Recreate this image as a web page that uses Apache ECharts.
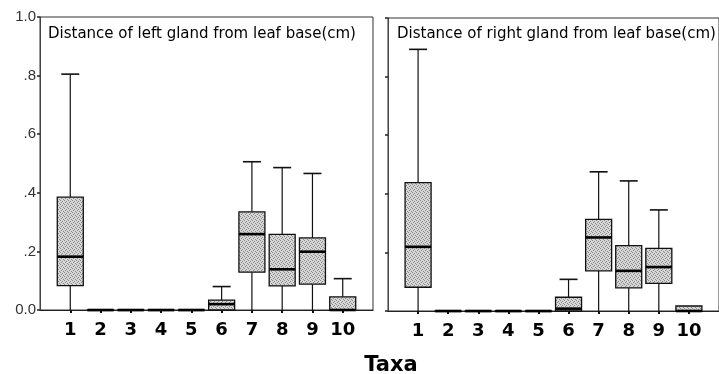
<!DOCTYPE html>
<html>
<head>
<meta charset="utf-8">
<script src="https://cdn.jsdelivr.net/npm/echarts@6/dist/echarts.min.js"></script>
<style>html,body{margin:0;padding:0;background:#fff}#c{width:719px;height:374px}</style>
</head>
<body>
<div id="c"></div>
<script>
// ---- data ----
const categories = ['1','2','3','4','5','6','7','8','9','10'];
const yTickLabels = ['0.0','.2','.4','.6','.8','1.0'];
const panelTitles = ['Distance of left gland from leaf base(cm)', 'Distance of right gland from leaf base(cm)'];
const xAxisTitle = 'Taxa';
// left gland
const leftMin    = [0,    0, 0, 0, 0, 0,     0,     0,     0,     0];
const leftQ1     = [0.083,0, 0, 0, 0, 0,     0.129, 0.082, 0.088, 0];
const leftMedian = [0.182,0, 0, 0, 0, 0.02,  0.259, 0.139, 0.199, 0];
const leftQ3     = [0.385,0, 0, 0, 0, 0.034, 0.335, 0.258, 0.246, 0.045];
const leftMax    = [0.805,0, 0, 0, 0, 0.08,  0.506, 0.486, 0.466, 0.107];
// right gland
const rightMin    = [0,    0, 0, 0, 0, 0,     0,     0,     0,     0];
const rightQ1     = [0.081,0, 0, 0, 0, 0,     0.137, 0.079, 0.094, 0];
const rightMedian = [0.219,0, 0, 0, 0, 0.008, 0.251, 0.137, 0.150, 0];
const rightQ3     = [0.438,0, 0, 0, 0, 0.047, 0.313, 0.223, 0.214, 0.017];
const rightMax    = [0.893,0, 0, 0, 0, 0.108, 0.475, 0.444, 0.345, 0.017];

function buildData(mn, q1, md, q3, mx) {
  return categories.map((c, i) => [i + 1, mn[i], q1[i], md[i], q3[i], mx[i]]);
}

// stipple texture for the boxes (fixed pattern)
const pc = document.createElement('canvas');
pc.width = 4; pc.height = 4;
const pctx = pc.getContext('2d');
pctx.fillStyle = '#d6d6d6'; pctx.fillRect(0, 0, 4, 4);
pctx.fillStyle = '#8a8a8a';
[[0,0],[2,1],[1,2],[3,3]].forEach(p => pctx.fillRect(p[0], p[1], 1, 1));
const stipple = {image: pc, repeat: 'repeat'};

const chart = echarts.init(document.getElementById('c'), null, {renderer: 'canvas'});

function renderBox(params, api) {
  const x = api.value(0);
  const pMin = api.coord([x, api.value(1)]);
  const pQ1 = api.coord([x, api.value(2)]);
  const pMed = api.coord([x, api.value(3)]);
  const pQ3 = api.coord([x, api.value(4)]);
  const pMax = api.coord([x, api.value(5)]);
  const cx = pMin[0];
  const bw = 26, cw = 18;
  const children = [];
  const lineStyle = {stroke: '#111', lineWidth: 1.2};
  if (pMax[1] < pQ3[1] - 0.5) {
    children.push({type: 'line', shape: {x1: cx, y1: pQ3[1], x2: cx, y2: pMax[1]}, style: lineStyle});
    children.push({type: 'line', shape: {x1: cx - cw / 2, y1: pMax[1], x2: cx + cw / 2, y2: pMax[1]}, style: {stroke: '#111', lineWidth: 1.6}});
  }
  if (pMin[1] > pQ1[1] + 0.5) {
    children.push({type: 'line', shape: {x1: cx, y1: pQ1[1], x2: cx, y2: pMin[1]}, style: lineStyle});
  }
  children.push({type: 'rect', shape: {x: cx - bw / 2, y: pQ3[1], width: bw, height: Math.max(pQ1[1] - pQ3[1], 0.5)},
    style: {fill: stipple, stroke: '#111', lineWidth: 1.3}});
  children.push({type: 'line', shape: {x1: cx - bw / 2, y1: pMed[1], x2: cx + bw / 2, y2: pMed[1]}, style: {stroke: '#000', lineWidth: 2.6}});
  return {type: 'group', children: children};
}

const font = 'DejaVu Sans';
function xAxisCfg(gi) {
  return {
    type: 'value', gridIndex: gi, min: 0, max: 11, interval: 1,
    axisLine: {show: true, onZero: false, lineStyle: {color: '#222', width: 1.2}},
    axisTick: {show: true, length: 3, inside: false, lineStyle: {color: '#111', width: 2}},
    splitLine: {show: false},
    axisLabel: {
      margin: 11, color: '#000', fontFamily: font, fontWeight: 'bold', fontSize: 18,
      formatter: v => (v >= 1 && v <= categories.length) ? categories[v - 1] : '',
      showMinLabel: false, showMaxLabel: false
    }
  };
}
function yAxisCfg(gi, showLabels) {
  return {
    type: 'value', gridIndex: gi, min: 0, max: 1, interval: 0.2,
    axisLine: {show: true, lineStyle: {color: '#444', width: 1}},
    axisTick: {show: true, length: 3, lineStyle: {color: '#222', width: 1.5}},
    splitLine: {show: false},
    axisLabel: {
      show: showLabels, margin: 4, color: '#333', fontFamily: 'Liberation Sans', fontSize: 15,
      formatter: v => yTickLabels[Math.round(v / 0.2)]
    }
  };
}

chart.setOption({
  animation: false,
  backgroundColor: '#fff',
  grid: [
    {left: 40, right: 346, top: 17, bottom: 64, show: true, borderColor: '#333', borderWidth: 1, backgroundColor: 'transparent'},
    {left: 388, right: -4, top: 18, bottom: 63, show: true, borderColor: '#333', borderWidth: 1, backgroundColor: 'transparent'}
  ],
  title: [
    {text: panelTitles[0], left: 43, top: 22, textStyle: {fontFamily: font, fontSize: 15, fontWeight: 'normal', color: '#000'}},
    {text: panelTitles[1], left: 392, top: 22, textStyle: {fontFamily: font, fontSize: 15, fontWeight: 'normal', color: '#000'}},
    {text: xAxisTitle, left: 386, top: 350, textAlign: 'center', textStyle: {fontFamily: font, fontSize: 21, fontWeight: 'bold', color: '#000'}}
  ],
  xAxis: [xAxisCfg(0), xAxisCfg(1)],
  yAxis: [yAxisCfg(0, true), yAxisCfg(1, false)],
  series: [
    {type: 'custom', xAxisIndex: 0, yAxisIndex: 0, renderItem: renderBox, clip: false,
     encode: {x: 0, y: [1, 2, 3, 4, 5]},
     data: buildData(leftMin, leftQ1, leftMedian, leftQ3, leftMax)},
    {type: 'custom', xAxisIndex: 1, yAxisIndex: 1, renderItem: renderBox, clip: false,
     encode: {x: 0, y: [1, 2, 3, 4, 5]},
     data: buildData(rightMin, rightQ1, rightMedian, rightQ3, rightMax)}
  ]
});
</script>
</body>
</html>
